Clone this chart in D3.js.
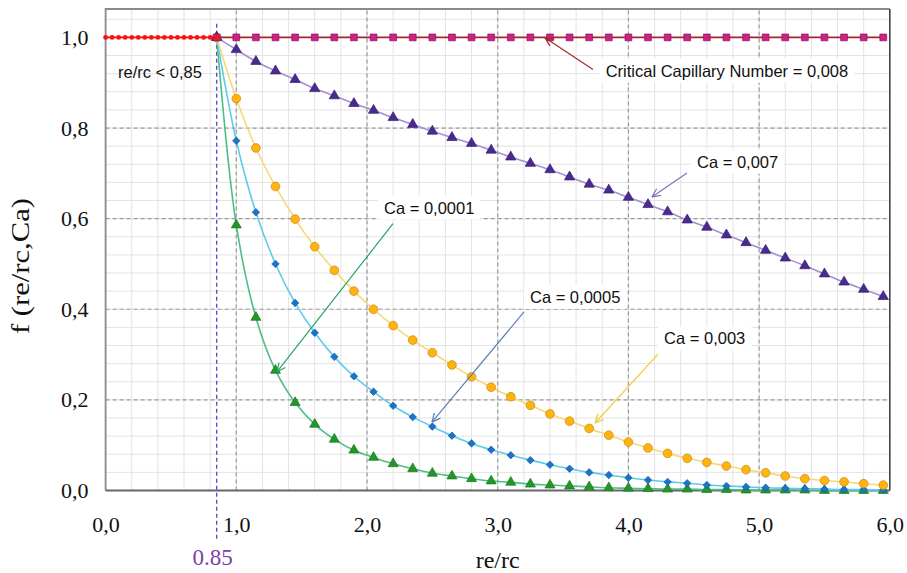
<!DOCTYPE html>
<html><head><meta charset="utf-8">
<script src="https://cdn.jsdelivr.net/npm/d3@7"></script>
<style>body{margin:0;background:#fff} svg{display:block}</style>
</head><body><svg id="chart" width="907" height="573"></svg>
<script>
// ---------- data ----------
const reRc = [0.85,1.00,1.15,1.30,1.45,1.60,1.75,1.90,2.05,2.20,2.35,2.50,2.65,2.80,2.95,3.10,3.25,3.40,3.55,3.70,3.85,4.00,4.15,4.30,4.45,4.60,4.75,4.90,5.05,5.20,5.35,5.50,5.65,5.80,5.95];
const belowX = [0,0.05,0.10,0.15,0.20,0.25,0.30,0.35,0.40,0.45,0.50,0.55,0.60,0.65,0.70,0.75,0.80,0.85];
const belowF = [1,1,1,1,1,1,1,1,1,1,1,1,1,1,1,1,1,1];
const fCritical = [1,1,1,1,1,1,1,1,1,1,1,1,1,1,1,1,1,1,1,1,1,1,1,1,1,1,1,1,1,1,1,1,1,1,1];
const fCa0007 = [1.0,0.973,0.947,0.926,0.907,0.887,0.871,0.854,0.839,0.823,0.808,0.793,0.779,0.766,0.751,0.736,0.722,0.708,0.692,0.676,0.663,0.647,0.631,0.615,0.597,0.581,0.564,0.547,0.530,0.513,0.496,0.478,0.460,0.444,0.428];
const fCa0003 = [1.0,0.865,0.756,0.671,0.599,0.538,0.486,0.440,0.400,0.364,0.332,0.304,0.277,0.251,0.228,0.207,0.188,0.169,0.153,0.137,0.122,0.107,0.094,0.082,0.071,0.062,0.054,0.046,0.039,0.032,0.026,0.022,0.019,0.015,0.012];
const fCa00005 = [1.0,0.772,0.614,0.500,0.414,0.348,0.295,0.252,0.218,0.187,0.162,0.141,0.121,0.104,0.090,0.078,0.067,0.057,0.048,0.040,0.034,0.028,0.023,0.019,0.016,0.012,0.010,0.008,0.006,0.005,0.004,0.003,0.002,0.002,0.001];
const fCa00001 = [1.0,0.586,0.382,0.265,0.194,0.146,0.113,0.089,0.073,0.059,0.048,0.038,0.032,0.026,0.021,0.018,0.014,0.012,0.010,0.008,0.006,0.005,0.004,0.003,0.003,0.002,0.002,0.001,0.001,0.001,0.001,0,0,0,0];
const xTicks = [0,1,2,3,4,5,6];
const xTickLabels = ["0,0","1,0","2,0","3,0","4,0","5,0","6,0"];
const yTicks = [0,0.2,0.4,0.6,0.8,1.0];
const yTickLabels = ["0,0","0,2","0,4","0,6","0,8","1,0"];
const thresholdX = 0.85;
const thresholdLabel = "0.85";
const xTitle = "re/rc";
const yTitle = "f (re/rc,Ca)";
const regionLabel = "re/rc < 0,85";

// annotation texts and anchors (data units)
const annotations = [
  {text:"Critical Capillary Number = 0,008", tx:3.826, ty:0.926, x1:3.729, y1:0.929, x2:3.362, y2:0.999, color:"#a3282c"},
  {text:"Ca = 0,007",  tx:4.525, ty:0.725, x1:4.448, y1:0.701, x2:4.180, y2:0.648, color:"#8e6cc0"},
  {text:"Ca = 0,0001", tx:2.130, ty:0.624, x1:2.199, y1:0.589, x2:1.311, y2:0.262, color:"#2aa36a"},
  {text:"Ca = 0,0005", tx:3.247, ty:0.427, x1:3.201, y1:0.394, x2:2.497, y2:0.151, color:"#5b7fb0"},
  {text:"Ca = 0,003",  tx:4.273, ty:0.335, x1:4.227, y1:0.301, x2:3.745, y2:0.149, color:"#f0cc3a"}
];

// ---------- chart ----------
const svg = d3.select("#chart");
svg.append("rect").attr("width",907).attr("height",573).attr("fill","#fff");
const x = d3.scaleLinear([0,6],[105.6,889.8]);
const y = d3.scaleLinear([0,1.0627],[490.5,9]);
const serif = "'Liberation Serif','Times New Roman',serif";
const sans = "'Liberation Sans',Arial,sans-serif";

// minor grid
const g = svg.append("g");
g.selectAll(".mx").data(d3.range(0.2,6,0.2)).join("line")
  .attr("x1",d=>x(d)).attr("x2",d=>x(d)).attr("y1",y(0)).attr("y2",y.range()[1])
  .attr("stroke","#e3e3e3").attr("stroke-width",1);
g.selectAll(".my").data(d3.range(0.04,1.06,0.04)).join("line")
  .attr("y1",d=>y(d)).attr("y2",d=>y(d)).attr("x1",x(0)).attr("x2",x(6))
  .attr("stroke","#e3e3e3").attr("stroke-width",1);
// major grid
g.selectAll(".Mx").data(xTicks.slice(1,-1)).join("line")
  .attr("x1",d=>x(d)).attr("x2",d=>x(d)).attr("y1",y(0)).attr("y2",y.range()[1])
  .attr("stroke","#9a9a9a").attr("stroke-width",1.2).attr("stroke-dasharray","4,3");
g.selectAll(".My").data(yTicks.slice(1,-1)).join("line")
  .attr("y1",d=>y(d)).attr("y2",d=>y(d)).attr("x1",x(0)).attr("x2",x(6))
  .attr("stroke","#9a9a9a").attr("stroke-width",1.2).attr("stroke-dasharray","4,3");

// frame
svg.append("path")
  .attr("d",`M${x(0)},${y(0)}V${y.range()[1]}H${x(6)}`)
  .attr("fill","none").attr("stroke","#8a8a8a").attr("stroke-width",1.8);
svg.append("line").attr("x1",x(6)).attr("x2",x(6)).attr("y1",y.range()[1]).attr("y2",y(0))
  .attr("stroke","#444").attr("stroke-width",1.6);
svg.append("line").attr("x1",x(0)).attr("x2",x(6)).attr("y1",y(0)).attr("y2",y(0))
  .attr("stroke","#666").attr("stroke-width",1.8);

// axes
const ax = svg.append("g").attr("transform",`translate(0,${y(0)})`)
  .call(d3.axisBottom(x).tickValues(xTicks).tickFormat((d,i)=>xTickLabels[i]).tickSize(0).tickPadding(26));
const ay = svg.append("g").attr("transform",`translate(${x(0)},0)`)
  .call(d3.axisLeft(y).tickValues(yTicks).tickFormat((d,i)=>yTickLabels[i]).tickSize(0).tickPadding(17));
[ax,ay].forEach(a=>{a.select(".domain").remove();
  a.selectAll("text").attr("font-family",serif).attr("font-size",22).attr("fill","#111");});

// titles
svg.append("text").attr("x",x(3)).attr("y",568).attr("text-anchor","middle")
  .attr("font-family",serif).attr("font-size",24).attr("fill","#111").text(xTitle);
svg.append("text").attr("transform","translate(29,266) rotate(-90)").attr("text-anchor","middle")
  .attr("font-family",serif).attr("font-size",25).attr("fill","#111")
  .attr("textLength",136).attr("lengthAdjust","spacingAndGlyphs").text(yTitle);

// threshold line
svg.append("line").attr("x1",x(thresholdX)).attr("x2",x(thresholdX))
  .attr("y1",y(1.03)).attr("y2",y(0)+50)
  .attr("stroke","#5a44c8").attr("stroke-width",1.3).attr("stroke-dasharray","4,3");
svg.append("text").attr("x",x(thresholdX)-4).attr("y",565).attr("text-anchor","middle")
  .attr("font-family",serif).attr("font-size",23).attr("fill","#7a3fa8").text(thresholdLabel);

// series
const line = d3.line().x(d=>x(d[0])).y(d=>y(d[1])).curve(d3.curveCatmullRom.alpha(0.5));
const zipped = arr => reRc.map((v,i)=>[v,arr[i]]);
const series = [
  {vals:fCa00001, line:"#4dbf86", fill:"#23962a", stroke:"#1c7a22", sym:d3.symbolTriangle, size:44},
  {vals:fCa00005, line:"#5ecbeb", fill:"#1b74c9", stroke:"#155ea5", sym:d3.symbolDiamond2, size:36},
  {vals:fCa0003,  line:"#f7d874", fill:"#ffb310", stroke:"#c98a10", sym:d3.symbolCircle, size:60},
  {vals:fCa0007,  line:"#a48fcf", fill:"#4a2a90", stroke:"#37206e", sym:d3.symbolTriangle, size:46},
  {vals:fCritical,line:"#a3282c", fill:"#cc2288", stroke:"#8a1555", sym:d3.symbolSquare, size:46}
];
series.forEach(s=>{
  const pts = zipped(s.vals);
  svg.append("path").attr("d",line(pts)).attr("fill","none").attr("stroke",s.line).attr("stroke-width",1.6);
  svg.append("g").selectAll("path").data(pts).join("path")
    .attr("transform",d=>`translate(${x(d[0])},${y(d[1])})`)
    .attr("d",d3.symbol(s.sym,s.size)).attr("fill",s.fill).attr("stroke",s.stroke).attr("stroke-width",0.7);
});
// below threshold red dots
const bpts = belowX.map((v,i)=>[v,belowF[i]]);
svg.append("path").attr("d",d3.line().x(d=>x(d[0])).y(d=>y(d[1]))(bpts))
  .attr("fill","none").attr("stroke","#e01010").attr("stroke-width",1.6);
svg.append("g").selectAll("circle").data(bpts).join("circle")
  .attr("cx",d=>x(d[0])).attr("cy",d=>y(d[1])).attr("r",2.4).attr("fill","#ff1010");

// region label
svg.append("text").attr("x",x(0.095)).attr("y",y(0.924)).attr("dy","0.35em")
  .attr("font-family",sans).attr("font-size",16.5).attr("fill","#111").text(regionLabel);

// annotations
const defs = svg.append("defs");
annotations.forEach((a,i)=>{
  defs.append("marker").attr("id","ar"+i).attr("viewBox","0 0 10 10").attr("refX",9.5).attr("refY",5)
    .attr("markerWidth",10).attr("markerHeight",10).attr("markerUnits","userSpaceOnUse").attr("orient","auto")
    .append("path").attr("d","M1,1L9.5,5L1,9").attr("fill","none").attr("stroke",a.color).attr("stroke-width",1.2);
  const grp = svg.append("g");
  const t = grp.append("text").attr("x",x(a.tx)).attr("y",y(a.ty)).attr("dy","0.35em")
    .attr("font-family",sans).attr("font-size",16.5).attr("fill","#111").text(a.text);
  const bb = t.node().getBBox();
  grp.insert("rect","text").attr("x",bb.x-6).attr("y",bb.y-3).attr("width",bb.width+12).attr("height",bb.height+6).attr("fill","#fff");
  svg.append("line").attr("x1",x(a.x1)).attr("y1",y(a.y1)).attr("x2",x(a.x2)).attr("y2",y(a.y2))
    .attr("stroke",a.color).attr("stroke-width",1.2).attr("marker-end",`url(#ar${i})`);
});
</script></body></html>
